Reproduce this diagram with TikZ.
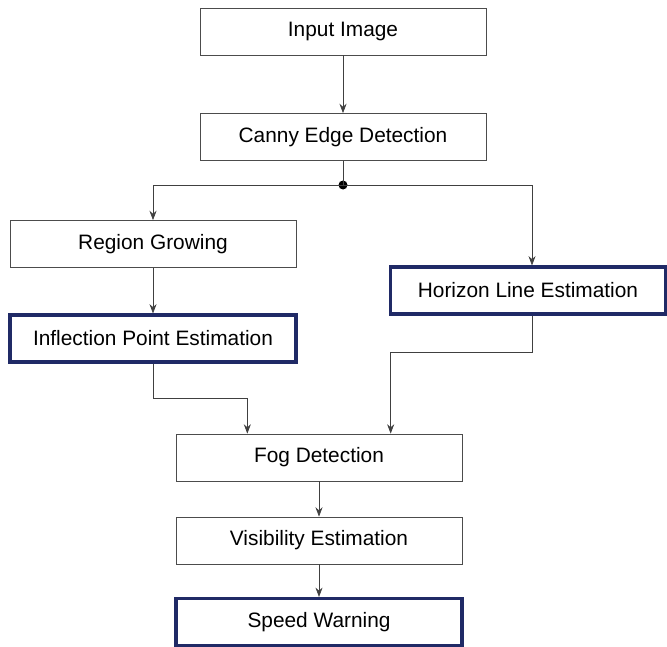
\documentclass[tikz,border=0pt]{standalone}
\usepackage{fontspec}
\setmainfont{Liberation Sans}
\usetikzlibrary{positioning,calc,arrows.meta}
\definecolor{navy}{RGB}{32,42,102}
\tikzset{>={Stealth[length=8pt,width=6pt]}}
\tikzset{box/.style={draw=black!70,line width=.6pt,minimum width=8.58cm,minimum height=1.41cm,inner sep=0pt,font=\fontsize{17.8}{20}\selectfont},
  hbox/.style={box,draw=navy,line width=2.6pt},
  link/.style={->,draw=black!75,line width=.6pt}}

\begin{document}
\begin{tikzpicture}[x=.03cm,y=-.03cm]
\useasboundingbox (0,0) rectangle (667,647);
\node[box] (input) at (343,31.5) {Input Image};
\node[box] (canny) at (343,137) {Canny Edge Detection};
\node[box] (region) at (153,244) {Region Growing};
\node[hbox] (inflect) at (153,338.5) {Inflection Point Estimation};
\node[hbox,minimum width=8.25cm] (horizon) at (528,290.5) {Horizon Line Estimation};
\node[box] (fog) at (319,457.5) {Fog Detection};
\node[box] (vis) at (319,540.5) {Visibility Estimation};
\node[hbox] (speed) at (319,622) {Speed Warning};
\coordinate (split) at (343,185);
\fill (split) circle [radius=4.5];
\draw[link] (input) -- (canny);
\draw[draw=black!75,line width=.6pt] (canny) -- (split);
\draw[link] (split) -| (region);
\draw[link] (split) -| ([xshift=4*.03cm]horizon.north);
\draw[link] (region) -- (inflect);
\coordinate (fl) at ($(fog.north west)!.25!(fog.north east)$);
\coordinate (fr) at ($(fog.north west)!.75!(fog.north east)$);
\draw[link] (inflect) |- (153,398) -| (fl);
\draw[link] ([xshift=4*.03cm]horizon.south) |- (fr |- 0,352) -- (fr);
\draw[link] (fog) -- (vis);
\draw[link] (vis) -- (speed);
\end{tikzpicture}
\end{document}
